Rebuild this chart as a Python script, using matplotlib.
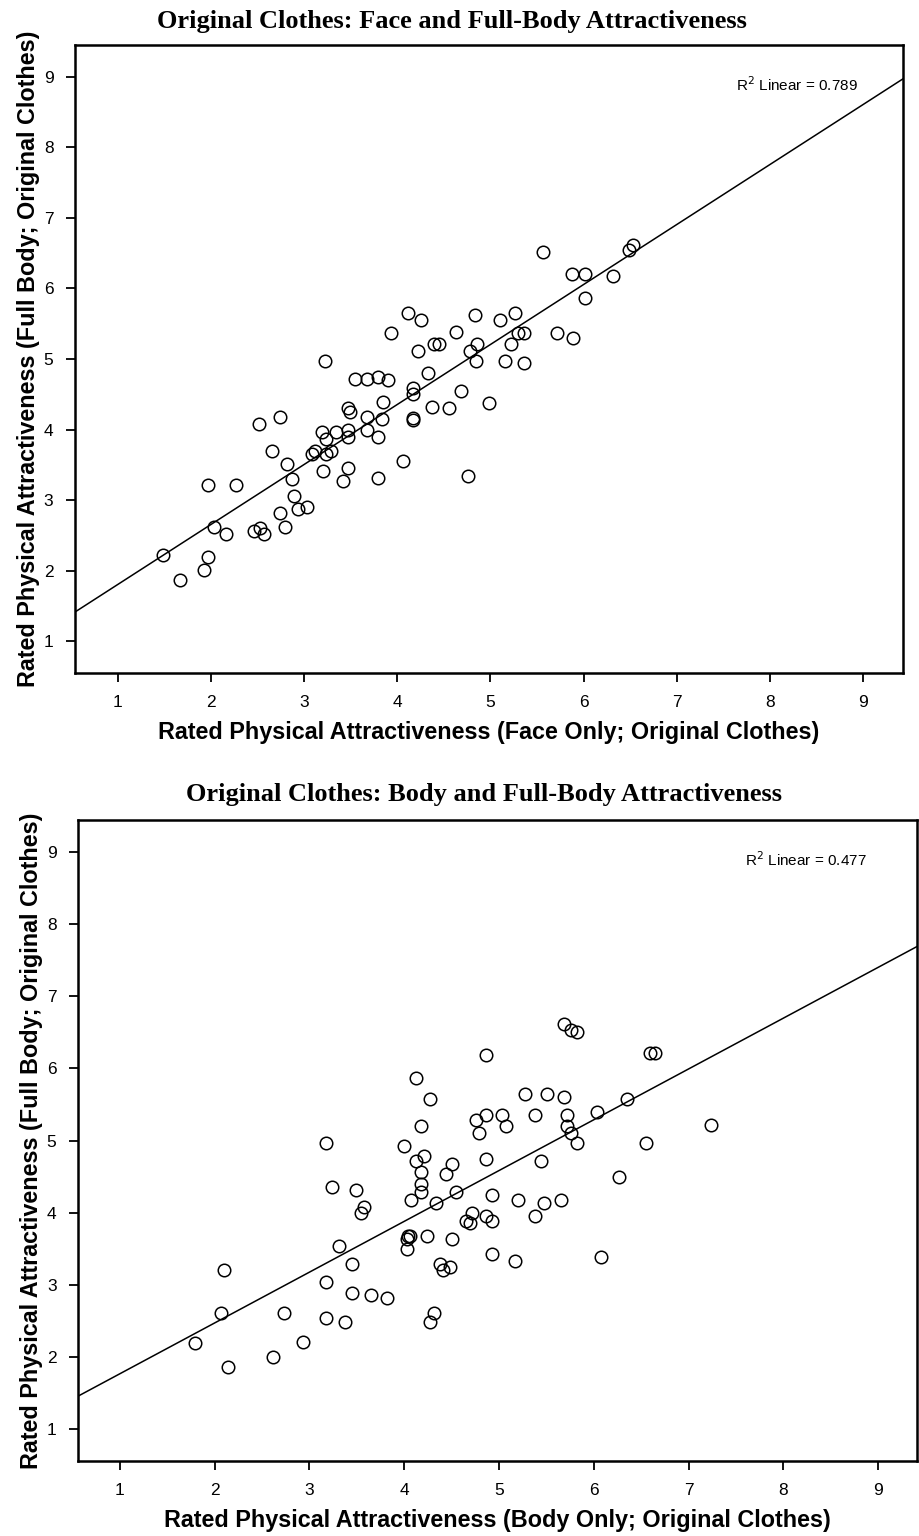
import matplotlib
matplotlib.use("Agg")
import matplotlib.pyplot as plt
import numpy as np

# ---------------- data ----------------
face_only = [1.49, 1.67, 1.93, 1.97, 1.97, 2.03, 2.16, 2.27, 2.46, 2.52, 2.53, 2.57,
             2.66, 2.74, 2.74, 2.79, 2.82, 2.87, 2.89, 2.93, 3.03, 3.08, 3.12, 3.20,
             3.19, 3.22, 3.23, 3.24, 3.29, 3.34, 3.42, 3.47, 3.47, 3.47, 3.47, 3.49,
             3.55, 3.67, 3.67, 3.67, 3.79, 3.79, 3.79, 3.84, 3.85, 3.90, 3.93, 4.06,
             4.12, 4.17, 4.17, 4.17, 4.17, 4.22, 4.26, 4.33, 4.37, 4.39, 4.45, 4.56,
             4.63, 4.68, 4.76, 4.78, 4.84, 4.85, 4.86, 4.99, 5.10, 5.16, 5.22, 5.26,
             5.30, 5.36, 5.36, 5.56, 5.72, 5.88, 5.89, 6.02, 6.02, 6.32, 6.49, 6.53]
full_body_top = [2.23, 1.87, 2.01, 2.20, 3.21, 2.62, 2.52, 3.21, 2.56, 4.08, 2.61, 2.52,
                 3.69, 4.18, 2.82, 2.62, 3.51, 3.30, 3.06, 2.87, 2.90, 3.65, 3.69, 3.41,
                 3.97, 4.97, 3.87, 3.66, 3.70, 3.97, 3.27, 3.46, 4.00, 3.90, 4.30, 4.25,
                 4.72, 4.72, 4.18, 4.00, 3.90, 3.31, 4.75, 4.15, 4.39, 4.70, 5.37, 3.55,
                 5.65, 4.59, 4.51, 4.17, 4.14, 5.11, 5.56, 4.80, 4.32, 5.21, 5.21, 4.30,
                 5.39, 4.55, 3.34, 5.11, 5.62, 4.97, 5.21, 4.37, 5.56, 4.97, 5.21, 5.65,
                 5.37, 4.94, 5.37, 6.51, 5.37, 6.21, 5.30, 6.21, 5.86, 6.18, 6.55, 6.61]

body_only = [4.13, 4.27, 4.18, 3.18, 4.00, 4.21, 4.13, 4.18, 4.51, 4.44, 3.24, 3.49,
             4.18, 4.18, 4.55, 4.07, 4.34, 3.58, 3.55, 4.04, 4.06, 4.03, 4.24, 4.51,
             4.03, 3.31, 3.45, 4.38, 4.41, 4.48, 2.10, 3.18, 3.45, 3.65, 3.82, 2.07,
             2.73, 3.18, 3.38, 4.31, 4.27, 1.79, 2.93, 2.62, 2.14, 5.69, 5.76, 5.82,
             4.86, 6.59, 6.65, 5.28, 5.51, 5.69, 6.35, 4.76, 4.86, 5.03, 5.07, 4.79,
             5.38, 5.72, 6.03, 5.72, 5.76, 5.82, 7.24, 6.55, 4.86, 5.44, 6.27, 4.93,
             5.20, 5.48, 5.65, 4.72, 4.65, 4.69, 4.86, 4.93, 5.38, 4.93, 5.17, 6.08]
full_body_bottom = [5.87, 5.57, 5.20, 4.96, 4.93, 4.79, 4.71, 4.57, 4.68, 4.54, 4.36, 4.32,
                    4.40, 4.29, 4.29, 4.18, 4.14, 4.08, 4.00, 3.68, 3.68, 3.63, 3.68, 3.64,
                    3.50, 3.54, 3.29, 3.29, 3.21, 3.25, 3.21, 3.04, 2.89, 2.86, 2.82, 2.61,
                    2.61, 2.54, 2.49, 2.61, 2.49, 2.19, 2.21, 2.00, 1.86, 6.61, 6.53, 6.50,
                    6.18, 6.21, 6.21, 5.64, 5.64, 5.61, 5.57, 5.29, 5.36, 5.36, 5.20, 5.11,
                    5.36, 5.36, 5.39, 5.20, 5.10, 4.96, 5.21, 4.96, 4.75, 4.71, 4.50, 4.25,
                    4.18, 4.14, 4.18, 4.00, 3.89, 3.86, 3.96, 3.89, 3.96, 3.43, 3.33, 3.39]

ticks = [1, 2, 3, 4, 5, 6, 7, 8, 9]
titles = ["Original Clothes: Face and Full-Body Attractiveness",
          "Original Clothes: Body and Full-Body Attractiveness"]
xlabels = ["Rated Physical Attractiveness (Face Only; Original Clothes)",
           "Rated Physical Attractiveness (Body Only; Original Clothes)"]
ylabel = "Rated Physical Attractiveness (Full Body; Original Clothes)"
r2_labels = ["0.789", "0.477"]

# ---------------- figure ----------------
fig = plt.figure(figsize=(9.2, 15.36), dpi=100)

panels = [
    dict(rect=[0.0815, 0.5618, 0.900, 0.4089], x=face_only, y=full_body_top,
         xlim=(0.54, 9.43), ylim=(0.55, 9.45), r2pos=(0.945, 0.937),
         title_x=0.455, title_pad=12),
    dict(rect=[0.0848, 0.0488, 0.9119, 0.4173], x=body_only, y=full_body_bottom,
         xlim=(0.56, 9.41), ylim=(0.56, 9.44), r2pos=(0.94, 0.9376),
         title_x=0.484, title_pad=14),
]

for i, p in enumerate(panels):
    ax = fig.add_axes(p["rect"])
    x = np.array(p["x"])
    y = np.array(p["y"])
    ax.plot(x, y, linestyle="none", marker="o", ms=9, mfc="none",
            mec="black", mew=1.1, zorder=3)
    slope, intercept = np.polyfit(x, y, 1)
    xl = np.array(p["xlim"])
    ax.plot(xl, intercept + slope * xl, color="black", lw=1.1, zorder=2)
    ax.set_xlim(*p["xlim"])
    ax.set_ylim(*p["ylim"])
    ax.set_xticks(ticks)
    ax.set_yticks(ticks)
    ax.tick_params(direction="out", length=6.5, width=1.3, labelsize=12.5, pad=9,
                   colors="black")
    for lab in ax.get_xticklabels() + ax.get_yticklabels():
        lab.set_family("Liberation Sans")
    for s in ax.spines.values():
        s.set_linewidth(1.8)
    ax.set_xlabel(xlabels[i], fontsize=16.8, fontweight="bold",
                  family="Liberation Sans", labelpad=8)
    ax.set_ylabel(ylabel, fontsize=16.8, fontweight="bold",
                  family="Liberation Sans", labelpad=3)
    ax.set_title(titles[i], fontsize=19, fontweight="bold",
                 family="Liberation Serif", x=p["title_x"], pad=p["title_pad"])
    ax.text(p["r2pos"][0], p["r2pos"][1], r"R$^2$ Linear = " + r2_labels[i],
            transform=ax.transAxes, ha="right", va="center", fontsize=11,
            family="Liberation Sans")

fig.savefig("out.png", dpi=100)
